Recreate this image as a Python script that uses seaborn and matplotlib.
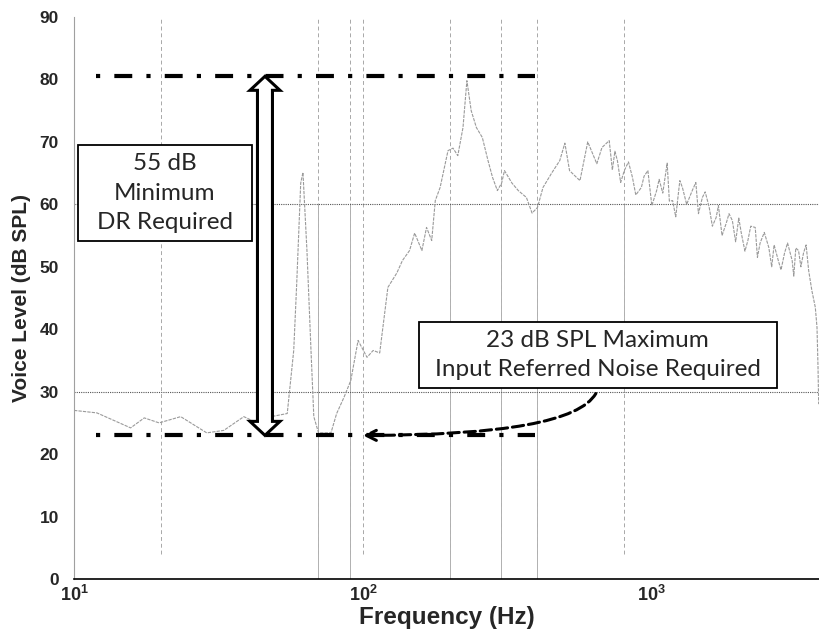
import matplotlib.pyplot as plt
import matplotlib.transforms as mtransforms
import numpy as np
import pandas as pd
import seaborn as sns
from matplotlib.patches import Polygon, Rectangle

sns.set_theme(style="white")
plt.rcParams["font.family"] = ["Liberation Sans", "DejaVu Sans"]
plt.rcParams["mathtext.fontset"] = "custom"
plt.rcParams["mathtext.bf"] = "Liberation Sans:bold"
plt.rcParams["mathtext.rm"] = "Liberation Sans"

# voice spectrum (Hz, dB SPL)
freq_hz = [
    10, 12, 15.7, 17.5, 19.7, 23.4, 28.8, 33.0, 38.7, 42.6, 48.1, 54.7, 57.6,
    59.0, 60.9, 62.0, 64.0, 66.1, 67.6, 70.2, 77.5, 81.1, 86.0, 90.8, 96.2,
    103.3, 108.5, 114.3, 118.9, 122, 131, 137, 145, 151, 160, 166, 173, 178,
    185, 197, 205, 213, 222, 229, 237, 247, 259, 271, 281, 292, 302, 309, 328,
    345, 368, 385, 402, 420, 450, 480, 500, 519, 549, 564, 600, 645, 672, 712,
    730, 745, 760, 780, 803, 830, 857, 880, 920, 940, 969, 1000, 1039, 1060,
    1091, 1130, 1150, 1180, 1210, 1250, 1276, 1320, 1380, 1420, 1450, 1496,
    1530, 1580, 1620, 1670, 1700, 1750, 1810, 1850, 1900, 1950, 2000, 2040,
    2100, 2150, 2200, 2280, 2320, 2370, 2450, 2540, 2600, 2650, 2740, 2800,
    2880, 2950, 3060, 3100, 3150, 3220, 3280, 3350, 3420, 3490, 3580, 3680,
    3730, 3760, 3780,
]
level_db = [
    27.0, 26.6, 24.2, 25.8, 25.0, 26.0, 23.4, 23.8, 26.0, 25.1, 26.0, 26.5, 36.6,
    47.4, 63.4, 65.1, 52.6, 36.6, 26.0, 23.4, 23.4, 26.5, 29.1, 31.8, 38.2,
    35.5, 36.6, 36.2, 42.6, 46.7, 49.0, 51.0, 52.6, 55.4, 52.6, 56.3, 54.2, 60.6,
    62.7, 68.6, 69.0, 67.8, 72.3, 79.8, 75.0, 72.3, 70.7, 67.0, 64.3, 62.2, 63.4, 65.4, 63.4,
    62.2, 61.1, 58.6, 59.5, 62.7, 65.0, 67.0, 69.8, 65.4, 64.3, 63.8, 70.0, 66.5, 69.1, 70.2,
    65.5, 68.5, 67.0, 63.5, 65.4, 66.8, 64.3, 61.5, 62.7, 64.5, 65.4, 59.8, 62.2, 64.0,
    61.8, 66.6, 60.5, 60.6, 58.0, 63.8, 62.7, 60.0, 62.2, 63.5, 58.5, 61.1,
    62.0, 59.5, 56.5, 57.9, 59.8, 55.0, 57.0, 58.5, 57.4, 54.0, 57.8, 55.4,
    52.5, 54.2, 56.5, 56.3, 51.5, 53.8, 55.5, 53.1, 50.0, 53.5, 51.0, 49.5,
    52.2, 53.8, 51.0, 48.5, 53.0, 52.6, 50.0, 52.2, 53.5, 49.4, 46.2, 43.5,
    40.3, 34.0, 28.0,
]

grid_freqs = [20, 70, 90, 100, 200, 300, 400, 800]
grid_levels = [30, 60]
max_level = 80.5   # loudest voice level
noise_level = 23   # required input referred noise
line_span = [11.9, 395]
arrow_freq = 45.8
x_ticks = [10, 100, 1000]
x_tick_labels = [r"$\mathbf{10^{1}}$", r"$\mathbf{10^{2}}$", r"$\mathbf{10^{3}}$"]
y_ticks = list(range(0, 91, 10))

df = pd.DataFrame({"freq": freq_hz, "level": level_db})

fig = plt.figure(figsize=(8.19, 6.39), dpi=100)
ax = fig.add_axes([0.0904, 0.0939, 0.9096, 0.8795])
ax.set_xscale("log")
ax.set_xlim(10, 3790)
ax.set_ylim(0, 90)

# grid lines (matlab style: dashed with some solid parts)
for f in grid_freqs:
    ax.axvline(f, ymin=4 / 90, ymax=1, color="#a8a8a8", lw=0.7, ls=(0, (4, 3)), zorder=1)
for f in [70, 90, 200, 300, 400]:
    ax.axvline(f, ymin=0, ymax=60 / 90, color="#b0b0b0", lw=0.7, zorder=1)
ax.axvline(800, ymin=30 / 90, ymax=60 / 90, color="#b0b0b0", lw=0.7, zorder=1)
for lv in grid_levels:
    ax.axhline(lv, color="#555555", lw=0.8, ls=(0, (1, 1)), zorder=1)

sns.lineplot(data=df, x="freq", y="level", sort=False, estimator=None, ax=ax,
             color="#9a9a9a", lw=0.8, zorder=2)
ax.lines[-1].set_linestyle((0, (3, 1)))

for lv in [max_level, noise_level]:
    ax.plot(line_span, [lv, lv], color="black", lw=3, ls=(0, (1, 3.4, 4.3, 3.4)),
            solid_capstyle="butt", dash_capstyle="butt", zorder=4)

# hollow double arrow for the dynamic range
ident = mtransforms.IdentityTransform()
p0 = ax.transData.transform((arrow_freq, noise_level))
p1 = ax.transData.transform((arrow_freq, max_level))
cx, ylo, yhi = p0[0], p0[1], p1[1]
sw, hw, hl = 7.5, 15.0, 14.0
verts = [(cx, ylo), (cx + hw, ylo + hl), (cx + sw, ylo + hl), (cx + sw, yhi - hl),
         (cx + hw, yhi - hl), (cx, yhi), (cx - hw, yhi - hl), (cx - sw, yhi - hl),
         (cx - sw, ylo + hl), (cx - hw, ylo + hl)]
ax.add_patch(Polygon(verts, closed=True, facecolor="white", edgecolor="black", lw=2.2,
                     joinstyle="miter", transform=ident, zorder=5))

ax.annotate("", xy=(100, noise_level), xytext=(640, 29.7),
            arrowprops=dict(arrowstyle="->", lw=2.2, ls="--", color="black",
                            connectionstyle="angle3,angleA=60,angleB=0",
                            shrinkA=0, shrinkB=0, mutation_scale=18), zorder=5)

box_font = ["Lato", "DejaVu Sans"]
renderer = fig.canvas.get_renderer()


def boxed_text(x, y, s, pad_x, pad_y):
    t = ax.text(x, y, s, ha="center", va="center", fontsize=17.5, family=box_font,
                linespacing=1.48, zorder=7)
    bb = t.get_window_extent(renderer)
    ax.add_patch(Rectangle((bb.x0 - pad_x, bb.y0 - pad_y), bb.width + 2 * pad_x,
                           bb.height + 2 * pad_y, fc="white", ec="black", lw=1.3,
                           transform=ident, zorder=6))


boxed_text(20.6, 61.8, "55 dB\nMinimum\nDR Required", 19, 8)
boxed_text(650, 35.9, "23 dB SPL Maximum\nInput Referred Noise Required", 16, 8)

ax.set_xticks(x_ticks)
ax.set_xticklabels(x_tick_labels, fontsize=13)
ax.minorticks_off()
ax.set_yticks(y_ticks)
ax.set_yticklabels([str(t) for t in y_ticks], fontsize=12.5, fontweight="bold")
ax.tick_params(axis="both", length=0)
ax.tick_params(axis="y", pad=11)
ax.tick_params(axis="x", pad=4)
ax.set_xlabel("Frequency (Hz)", fontsize=17.5, fontweight="bold", labelpad=1)
ax.set_ylabel("Voice Level (dB SPL)", fontsize=15, fontweight="bold", labelpad=6)

for s in ["top", "right"]:
    ax.spines[s].set_visible(False)
ax.spines["left"].set_color("#a0a0a0")
ax.spines["left"].set_linewidth(0.8)
ax.spines["bottom"].set_color("black")
ax.spines["bottom"].set_linewidth(1.2)

fig.savefig("out.png", dpi=100)
